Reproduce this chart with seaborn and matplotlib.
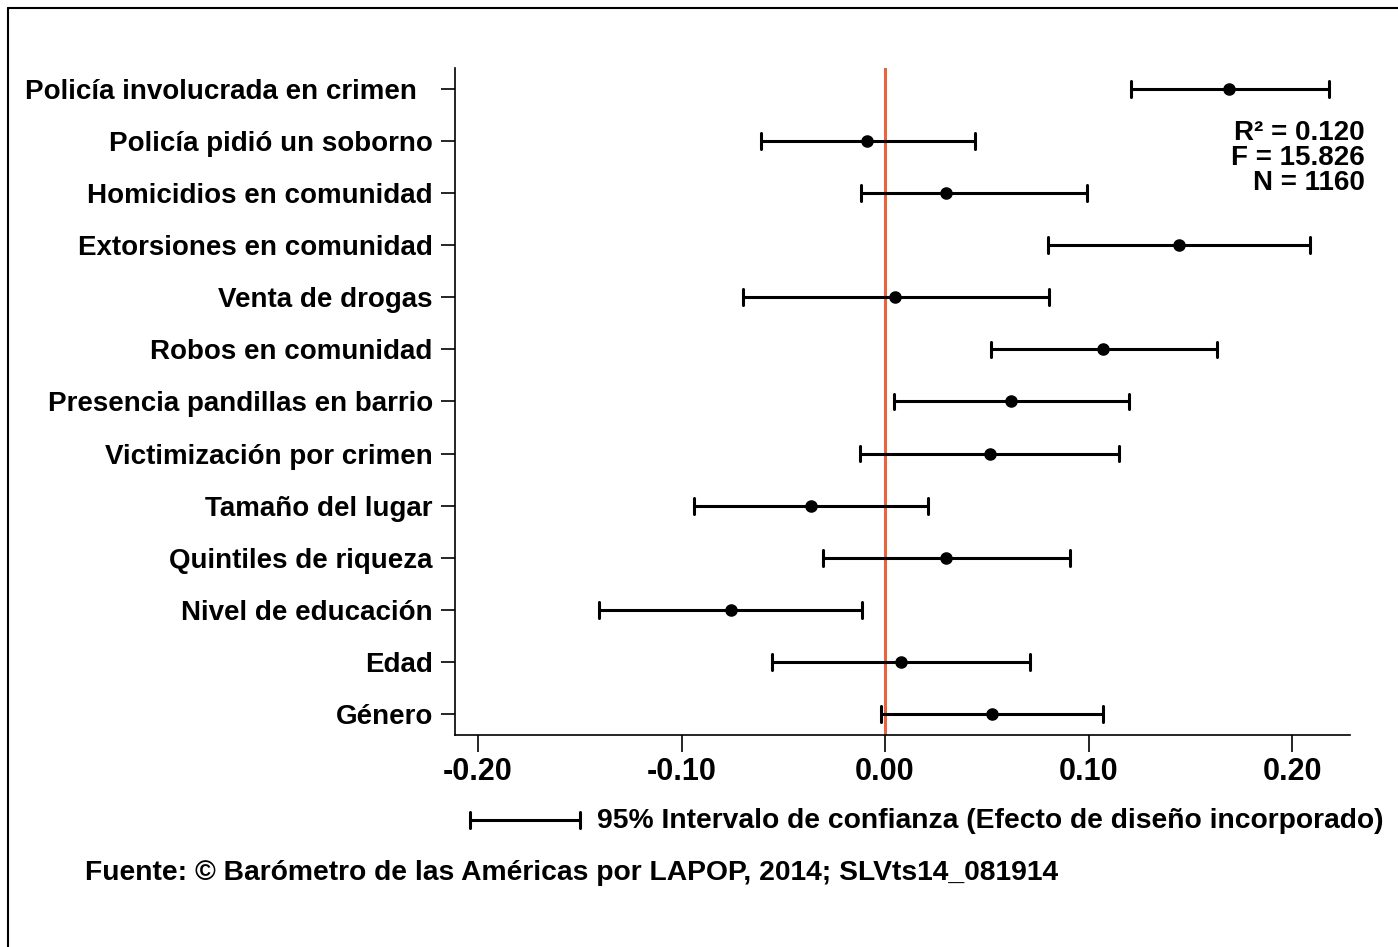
import numpy as np
import pandas as pd
import matplotlib
matplotlib.use("Agg")
import matplotlib.pyplot as plt
import seaborn as sns

# ---------- Data ----------
variables = [
    "Policía involucrada en crimen  ",
    "Policía pidió un soborno",
    "Homicidios en comunidad",
    "Extorsiones en comunidad",
    "Venta de drogas",
    "Robos en comunidad",
    "Presencia pandillas en barrio",
    "Victimización por crimen",
    "Tamaño del lugar",
    "Quintiles de riqueza",
    "Nivel de educación",
    "Edad",
    "Género",
]
coef = [0.169, -0.009, 0.030, 0.1445, 0.005, 0.107, 0.062, 0.0516, -0.0364, 0.030, -0.0757, 0.0079, 0.0526]
ci_low = [0.121, -0.061, -0.012, 0.080, -0.070, 0.052, 0.0044, -0.0123, -0.094, -0.0305, -0.1405, -0.0555, -0.002]
ci_high = [0.218, 0.044, 0.099, 0.209, 0.0806, 0.163, 0.120, 0.115, 0.021, 0.091, -0.0113, 0.0713, 0.107]
xticks = [-0.20, -0.10, 0.00, 0.10, 0.20]
stats_lines = ["R² = 0.120", "F = 15.826", "N = 1160"]
legend_text = "95% Intervalo de confianza (Efecto de diseño incorporado)"
source_text = "Fuente: © Barómetro de las Américas por LAPOP, 2014; SLVts14_081914"

# long format: three values per variable, median = estimate, min/max = CI
df = pd.DataFrame({
    "variable": np.repeat(variables, 3),
    "value": np.column_stack([ci_low, coef, ci_high]).ravel(),
})

sns.set_theme(style="ticks")
plt.rcParams["font.family"] = ["Liberation Sans", "DejaVu Sans"]
plt.rcParams["font.weight"] = "bold"
for k in ["text.color", "axes.labelcolor", "xtick.color", "ytick.color", "axes.edgecolor"]:
    plt.rcParams[k] = "black"

FS = 20

fig = plt.figure(figsize=(13.98, 9.47), dpi=100)
ax = fig.add_axes([0.3255, 0.2239, 0.6402, 0.7043])

ax.axvline(0, color="#E8643C", lw=2.2, zorder=1)

sns.pointplot(
    data=df, x="value", y="variable", order=variables, orient="h",
    estimator="median", errorbar=("pi", 100), capsize=0.3,
    linestyle="none", markers="o", color="black",
    err_kws={"linewidth": 2.2}, markersize=7, ax=ax, zorder=3,
)

ax.set_xlim(-0.2113, 0.2285)
ax.set_ylim(len(variables) - 0.6, -0.4)
ax.set_xticks(xticks)
ax.set_xticklabels([f"{t:.2f}" for t in xticks])
ax.set_xlabel("")
ax.set_ylabel("")
sns.despine(ax=ax)
for s in ["left", "bottom"]:
    ax.spines[s].set_linewidth(1.2)
ax.tick_params(axis="y", length=10, width=1.2, labelsize=FS, pad=6)
ax.tick_params(axis="x", length=12, width=1.2, labelsize=FS + 2, pad=4)
for lab in ax.get_xticklabels() + ax.get_yticklabels():
    lab.set_fontweight("bold")

# model fit stats
fig.text(1365 / 1398, 1 - 120 / 947, "\n".join(stats_lines),
         ha="right", va="top", fontsize=FS, fontweight="bold", linespacing=0.96)

# legend-like errorbar sample
fig.add_artist(plt.Line2D([470 / 1398, 580 / 1398], [1 - 820 / 947] * 2, color="black", lw=2.2))
for xp in [470, 580]:
    fig.add_artist(plt.Line2D([xp / 1398] * 2, [1 - 812 / 947, 1 - 828 / 947], color="black", lw=2.2))
fig.text(597 / 1398, 1 - 821 / 947, legend_text, ha="left", va="center", fontsize=FS + 0.3, fontweight="bold")
fig.text(85 / 1398, 1 - 873 / 947, source_text, ha="left", va="center", fontsize=FS + 0.3, fontweight="bold")

# partial frame (left and top) as in the original export
fig.add_artist(plt.Line2D([8 / 1398, 8 / 1398], [0, 1 - 8 / 947], color="black", lw=1.5))
fig.add_artist(plt.Line2D([8 / 1398, 1], [1 - 8 / 947] * 2, color="black", lw=1.5))

fig.savefig("out.png", dpi=100)
